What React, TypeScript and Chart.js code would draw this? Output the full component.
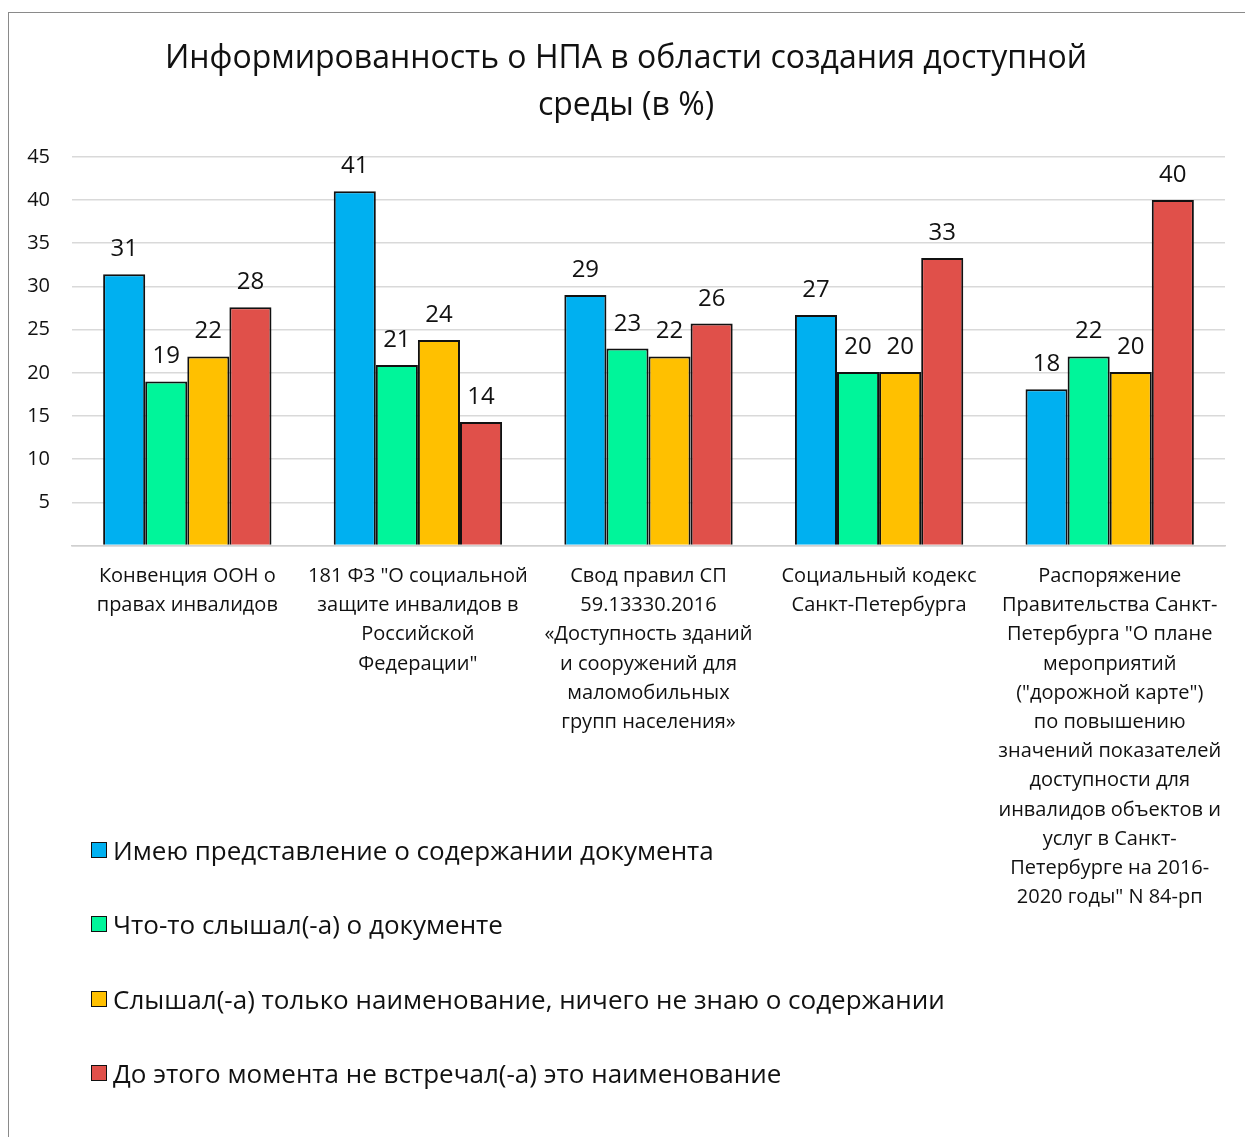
import React, { useEffect, useRef } from "react";
import { Chart, registerables } from "chart.js";

Chart.register(...registerables);

const FONT = "'Open Sans', 'Noto Sans', sans-serif";

const titleLines = ["Информированность о НПА в области создания доступной", "среды (в %)"];

const categories: string[][] = [
  ["Конвенция ООН о", "правах инвалидов"],
  ["181 ФЗ \"О социальной", "защите инвалидов в", "Российской", "Федерации\""],
  ["Свод правил СП", "59.13330.2016", "«Доступность зданий", "и сооружений для", "маломобильных", "групп населения»"],
  ["Социальный кодекс", "Санкт-Петербурга"],
  [
    "Распоряжение",
    "Правительства Санкт-",
    "Петербурга \"О плане",
    "мероприятий",
    "(\"дорожной карте\")",
    "по повышению",
    "значений показателей",
    "доступности для",
    "инвалидов объектов и",
    "услуг в Санкт-",
    "Петербурге на 2016-",
    "2020 годы\" N 84-рп",
  ],
];

const seriesNames = [
  "Имею представление о содержании документа",
  "Что-то слышал(-а) о документе",
  "Слышал(-а) только наименование, ничего не знаю о содержании",
  "До этого момента не встречал(-а) это наименование",
];

const knowContent = [31.4, 41.0, 29.0, 26.7, 18.1];
const heardSomething = [19.0, 20.9, 22.8, 20.1, 21.9];
const heardNameOnly = [21.9, 23.8, 21.9, 20.1, 20.1];
const neverMet = [27.6, 14.3, 25.7, 33.3, 40.0];

const seriesColors = ["#00B0F0", "#00F59A", "#FFC000", "#E0504A"];

const yTicks = [5, 10, 15, 20, 25, 30, 35, 40, 45];

const labelPlugin = {
  id: "barLabels",
  afterDatasetsDraw(chart: any) {
    const ctx = chart.ctx;
    ctx.save();
    ctx.font = `24px ${FONT}`;
    ctx.fillStyle = "#111";
    ctx.textAlign = "center";
    ctx.textBaseline = "alphabetic";
    chart.data.datasets.forEach((ds: any, i: number) => {
      const meta = chart.getDatasetMeta(i);
      meta.data.forEach((bar: any, j: number) => {
        const v = ds.data[j] as number;
        ctx.fillText(String(Math.round(v)), bar.x, bar.y - 18);
      });
    });
    ctx.restore();
  },
};

export default function App() {
  const ref = useRef<HTMLCanvasElement>(null);

  useEffect(() => {
    if (!ref.current) return;
    const data = [knowContent, heardSomething, heardNameOnly, neverMet];
    const chart = new Chart(ref.current, {
      type: "bar",
      data: {
        labels: categories,
        datasets: data.map((d, i) => ({
          label: seriesNames[i],
          data: d,
          backgroundColor: seriesColors[i],
          borderColor: "#111",
          borderWidth: 2,
          borderSkipped: "bottom",
          categoryPercentage: 0.73,
          barPercentage: 1.0,
        })),
      },
      options: {
        animation: false,
        responsive: false,
        maintainAspectRatio: false,
        layout: { padding: { left: 18, right: 20, top: 0, bottom: 209 } },
        plugins: {
          legend: { display: false },
          tooltip: { enabled: false },
          title: {
            display: true,
            text: titleLines,
            color: "#111",
            font: { family: FONT, size: 32, weight: "normal", lineHeight: 1.45 },
            padding: { top: 23, bottom: 28 },
          },
        },
        scales: {
          x: {
            grid: { display: false, drawTicks: false },
            border: { display: true, color: "#d0d0d0", width: 1.5 },
            ticks: {
              color: "#111",
              font: { family: FONT, size: 20, lineHeight: 1.46 },
              padding: 16,
              maxRotation: 0,
              autoSkip: false,
            },
          },
          y: {
            min: 0,
            max: 45,
            afterBuildTicks: (axis: any) => {
              axis.ticks = [0, ...yTicks].map((v) => ({ value: v }));
            },
            afterFit: (axis: any) => {
              axis.width = 45;
            },
            grid: { color: "#d9d9d9", lineWidth: 1.5, drawTicks: false },
            border: { display: false },
            ticks: {
              color: "#111",
              font: { family: FONT, size: 20 },
              padding: 22,
              callback: (v: any) => (v === 0 ? "" : String(v)),
            },
          },
        },
      },
      plugins: [labelPlugin],
    });
    return () => chart.destroy();
  }, []);

  return (
    <div
      style={{
        position: "fixed",
        left: 8,
        top: 12,
        width: 1250,
        height: 1140,
        border: "1px solid #8a8a8a",
        background: "#fff",
      }}
    >
      <canvas ref={ref} width={1236} height={1124} style={{ display: "block", width: 1236, height: 1124 }} />
      <div style={{ position: "absolute", left: 82, top: 821, fontFamily: FONT, fontSize: 26, color: "#111" }}>
        {seriesNames.map((n, i) => (
          <div key={n} style={{ display: "flex", alignItems: "center", height: 32, marginBottom: i < 3 ? 42.3 : 0 }}>
            <span
              style={{
                display: "inline-block",
                width: 14,
                height: 14,
                background: seriesColors[i],
                border: "1.5px solid #111",
                marginRight: 6,
              }}
            />
            <span style={{ whiteSpace: "nowrap" }}>{n}</span>
          </div>
        ))}
      </div>
    </div>
  );
}
